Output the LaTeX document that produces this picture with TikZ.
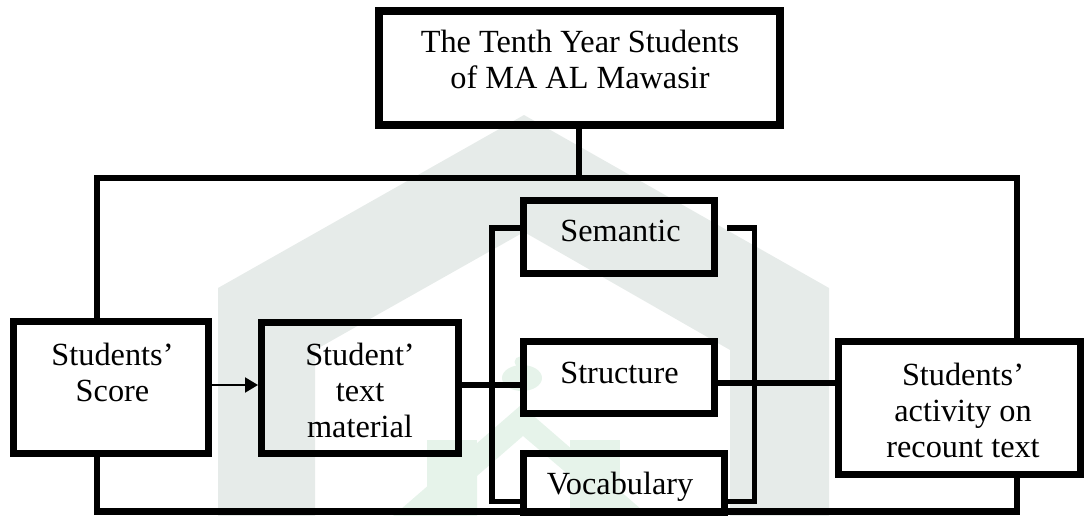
\documentclass[tikz,border=0pt]{standalone}
\usepackage{fontspec}
\setmainfont{Liberation Serif}
\usetikzlibrary{arrows.meta}
\definecolor{wmgrey}{HTML}{E6EBE9}
\definecolor{wmgreen}{HTML}{E6F3EA}
\begin{document}
\begin{tikzpicture}[x=1pt,y=-1pt,
  box/.style={draw, line width=7pt, inner sep=0pt},
  txt/.style={inner sep=0pt, align=center, font=\fontsize{32.3}{36}\selectfont},
  conn/.style={line width=5.7pt},
  loopline/.style={line width=6.5pt},
  thinarrow/.style={line width=2pt, -{Triangle[length=13pt,width=15pt]}}]
\useasboundingbox (0,0) rectangle (1086,516);
% watermark
\fill[wmgrey, even odd rule] (218,516) -- (218,288) -- (524,115) -- (829,288) -- (829,516) -- cycle
  (315,516) -- (315,350) -- (524,232) -- (730,350) -- (730,516) -- cycle;
\fill[wmgreen] (427,440) rectangle (477,516);
\fill[wmgreen] (570,440) rectangle (620,516);
\fill[wmgreen, even odd rule] (393,516) -- (521,405) -- (649,516) -- cycle
  (477,516) -- (477,476) -- (523,436) -- (570,476) -- (570,516) -- cycle;
\fill[wmgreen] (522,378) ellipse (20 and 13);
\fill[wmgreen] (520,362) circle (5.5);
% loop rectangle
\draw[loopline] (97,178) rectangle (1017,511.5);
% boxes
\node[box, line width=8pt, minimum width=401pt, minimum height=114pt] (top) at (579,68) {};
\node[box, fill=white, minimum width=195pt, minimum height=132pt] (score) at (111,387.5) {};
\node[box, minimum width=197pt, minimum height=131pt] (mat) at (360,388) {};
\node[box, minimum width=191pt, minimum height=73pt] (sem) at (619,237) {};
\node[box, minimum width=191pt, minimum height=72pt] (struct) at (619,377.5) {};
\node[box, minimum width=201pt, minimum height=59pt] (voc) at (624,483) {};
\node[box, fill=white, minimum width=242pt, minimum height=133pt] (act) at (959.5,408) {};
% connectors
\coordinate (tj) at (579,178);
\draw[conn] (top.south) -- (tj);
\draw[thinarrow] ([yshift=2.5pt]score.east) -- ([yshift=3pt]mat.west);
\draw[conn] ([yshift=3pt]mat.east) -- ([yshift=-7.5pt]struct.west);
\draw[conn] ([yshift=-5.5pt]struct.east) -- ([yshift=25pt]act.west);
\coordinate (lbb) at (492,501.5);
\draw[conn] ([yshift=9pt]sem.west) -| (lbb) -- ([yshift=-18.5pt]voc.west);
\coordinate (rbt) at (727,228);
\coordinate (rbb) at (754.5,501.5);
\draw[conn] (rbt) -| (rbb) -- ([yshift=-18.5pt]voc.east);
% texts
\node[txt] (toptxt) at (580,59.5) {The Tenth Year Students\\of MA AL Mawasir};
\node[txt] (scoretxt) at (112.5,372.5) {Students’\\Score};
\node[txt] (mattxt) at (360,390) {Student’\\text\\material};
\node[txt] (semtxt) at (620.5,231) {Semantic};
\node[txt] (structtxt) at (619.5,372.5) {Structure};
\node[txt] (voctxt) at (620,487) {Vocabulary};
\node[txt] (acttxt) at (963,410) {Students’\\activity on\\recount text};
\end{tikzpicture}
\end{document}
